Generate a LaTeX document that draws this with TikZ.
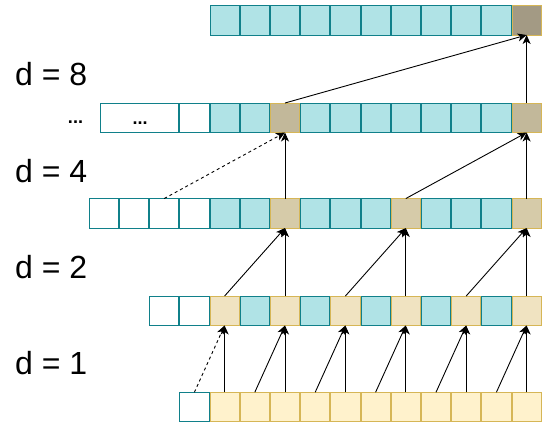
\documentclass[tikz,border=0pt]{standalone}
\usepackage{fontspec}
\setmainfont{Liberation Sans}
\usetikzlibrary{arrows.meta}
\definecolor{tealfill}{HTML}{B0E3E6}
\definecolor{tealline}{HTML}{10808A}
\definecolor{goldline}{HTML}{D6B656}
\definecolor{yA}{HTML}{FFF2CC}
\definecolor{yB}{HTML}{F0E3C1}
\definecolor{yC}{HTML}{D6CBA9}
\definecolor{yD}{HTML}{C2B89A}
\definecolor{yE}{HTML}{A39A84}
\begin{document}
\begin{tikzpicture}[x=1pt,y=-1pt,
  cell/.style={draw=tealline, fill=tealfill, line width=1pt, minimum width=29.2pt, minimum height=29.5pt, inner sep=0pt, outer sep=0pt},
  blank/.style={cell, fill=white},
  hot/.style={cell, draw=goldline, fill=#1},
  link/.style={-{Stealth[length=9pt,width=8pt,inset=2.5pt]}, line width=0.9pt, draw=black},
  dashlink/.style={link, dash pattern=on 3pt off 3pt},
  dlabel/.style={font=\fontsize{32}{32}\selectfont, anchor=west, inner sep=0pt},
  dots/.style={font=\bfseries\fontsize{18}{18}\selectfont, anchor=base, inner sep=0pt}]
\useasboundingbox (0,0) rectangle (545,423);
% row 1 (input)
\node[blank] (r1m1) at ({224.6-30.2},407) {};
\foreach \k in {0,...,10} \node[hot=yA] (r1c\k) at ({224.6+30.2*\k},407) {};
% row 2
\foreach \k/\n in {-2/m2,-1/m1} \node[blank] (r2\n) at ({224.6+30.2*\k},310.75) {};
\foreach \k in {1,3,5,7,9} \node[cell] (r2c\k) at ({224.6+30.2*\k},310.75) {};
\foreach \k in {0,2,4,6,8,10} \node[hot=yB] (r2c\k) at ({224.6+30.2*\k},310.75) {};
% row 3
\foreach \k/\n in {-4/m4,-3/m3,-2/m2,-1/m1} \node[blank] (r3\n) at ({224.6+30.2*\k},213.3) {};
\foreach \k in {0,1,3,4,5,7,8,9} \node[cell] (r3c\k) at ({224.6+30.2*\k},213.3) {};
\foreach \k in {2,6,10} \node[hot=yC] (r3c\k) at ({224.6+30.2*\k},213.3) {};
% row 4
\node[blank, minimum width=78.3pt] (r4w) at (139.65,117.75) {};
\node[dots] (r4wdots) at (140,124.5) {...};
\node[blank] (r4m1) at ({224.6-30.2},117.75) {};
\foreach \k in {0,1,3,4,5,6,7,8,9} \node[cell] (r4c\k) at ({224.6+30.2*\k},117.75) {};
\foreach \k in {2,10} \node[hot=yD] (r4c\k) at ({224.6+30.2*\k},117.75) {};
\node[dots] (moredots) at (75.5,123) {...};
% row 5
\foreach \k in {0,...,9} \node[cell] (r5c\k) at ({224.6+30.2*\k},20.25) {};
\node[hot=yE] (r5c10) at ({224.6+30.2*10},20.25) {};
% labels
\node[dlabel] (l8) at (15,74) {d = 8};
\node[dlabel] (l4) at (15,171) {d = 4};
\node[dlabel] (l2) at (15,267) {d = 2};
\node[dlabel] (l1) at (15,363) {d = 1};
% connectors
\draw[dashlink] (r1m1.north) -- (r2c0.south);
\foreach \s/\t in {0/0,1/2,2/2,3/4,4/4,5/6,6/6,7/8,8/8,9/10,10/10}
  \draw[link] (r1c\s.north) -- (r2c\t.south);
\foreach \s/\t in {0/2,2/2,4/6,6/6,8/10,10/10}
  \draw[link] (r2c\s.north) -- (r3c\t.south);
\draw[dashlink] (r3m2.north) -- (r4c2.south);
\foreach \s/\t in {2/2,6/10,10/10}
  \draw[link] (r3c\s.north) -- (r4c\t.south);
\foreach \s/\t in {2/10,10/10}
  \draw[link] (r4c\s.north) -- (r5c\t.south);
\end{tikzpicture}
\end{document}
